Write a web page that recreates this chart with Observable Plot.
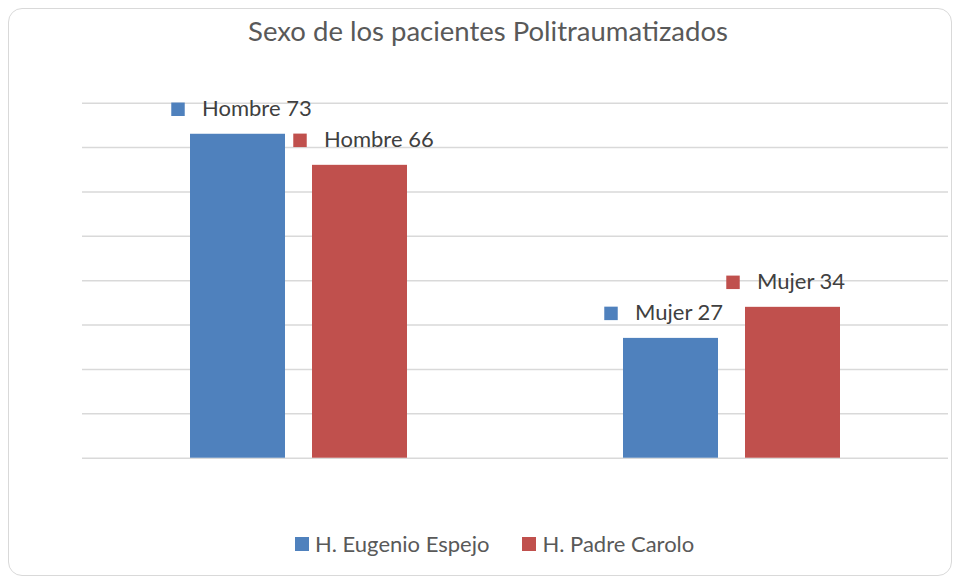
<!DOCTYPE html>
<html><head><meta charset="utf-8">
<script src="https://cdn.jsdelivr.net/npm/d3@7"></script>
<script src="https://cdn.jsdelivr.net/npm/@observablehq/plot@0.6"></script>
<style>
body{margin:0;background:#fff;font-family:Lato,"Open Sans",sans-serif;}
#wrap{position:relative;width:956px;height:579px;overflow:hidden;background:#fff;}
#frame{position:absolute;left:8px;top:8px;width:942px;height:566px;border:1px solid #d9d9d9;border-radius:14px;}
#title{position:absolute;left:88px;width:800px;top:15px;text-align:center;font-size:27.5px;line-height:32px;color:#595959;}
#chart{position:absolute;left:0;top:0;}
#legend{position:absolute;left:295px;top:531px;display:flex;align-items:center;font-size:22px;line-height:26px;color:#595959;}
.item{display:flex;align-items:center;margin-right:33px;}
.sw{width:14px;height:14px;margin-right:6px;}
</style></head>
<body>
<div id="wrap">
<div id="frame"></div>
<div id="title">Sexo de los pacientes Politraumatizados</div>
<div id="chart"></div>
<div id="legend"></div>
</div>
<script>
const sexos = ["Hombre", "Mujer"];
const hospitales = ["H. Eugenio Espejo", "H. Padre Carolo"];
const eugenioEspejo = [73, 27];
const padreCarolo = [66, 34];
const colores = ["#4F81BD", "#C0504D"];
const yTicks = [0, 10, 20, 30, 40, 50, 60, 70, 80];

const data = [];
sexos.forEach((s, i) => {
  data.push({sexo: s, hospital: hospitales[0], valor: eugenioEspejo[i]});
  data.push({sexo: s, hospital: hospitales[1], valor: padreCarolo[i]});
});

const chart = Plot.plot({
  width: 956,
  height: 480,
  marginLeft: 81,
  marginRight: 8,
  marginTop: 102.7,
  marginBottom: 22.3,
  style: {fontFamily: "Lato, 'Open Sans', sans-serif", background: "transparent"},
  fx: {domain: sexos, padding: 0, axis: null},
  x: {domain: hospitales, paddingInner: 0.22, paddingOuter: 0.872, axis: null},
  y: {domain: [0, 80], axis: null},
  color: {domain: hospitales, range: colores},
  marks: [
    Plot.ruleY(yTicks, {stroke: "#d9d9d9", strokeWidth: 1.5}),
    Plot.barY(data, {fx: "sexo", x: "hospital", y: "valor", fill: "hospital"}),
    Plot.dot(data, {fx: "sexo", x: "hospital", y: "valor", symbol: "square", r: 7.6, fill: "hospital", stroke: null, dx: -60, dy: -25}),
    Plot.text(data, {fx: "sexo", x: "hospital", y: "valor", text: d => `${d.sexo} ${d.valor}`, textAnchor: "start", dx: -36, dy: -25, fontSize: 22, fill: "#404040"})
  ]
});
document.getElementById("chart").appendChild(chart);

const legend = document.getElementById("legend");
hospitales.forEach((h, i) => {
  const it = document.createElement("div");
  it.className = "item";
  it.innerHTML = `<div class="sw" style="background:${colores[i]}"></div><span>${h}</span>`;
  legend.appendChild(it);
});
</script>
</body></html>
